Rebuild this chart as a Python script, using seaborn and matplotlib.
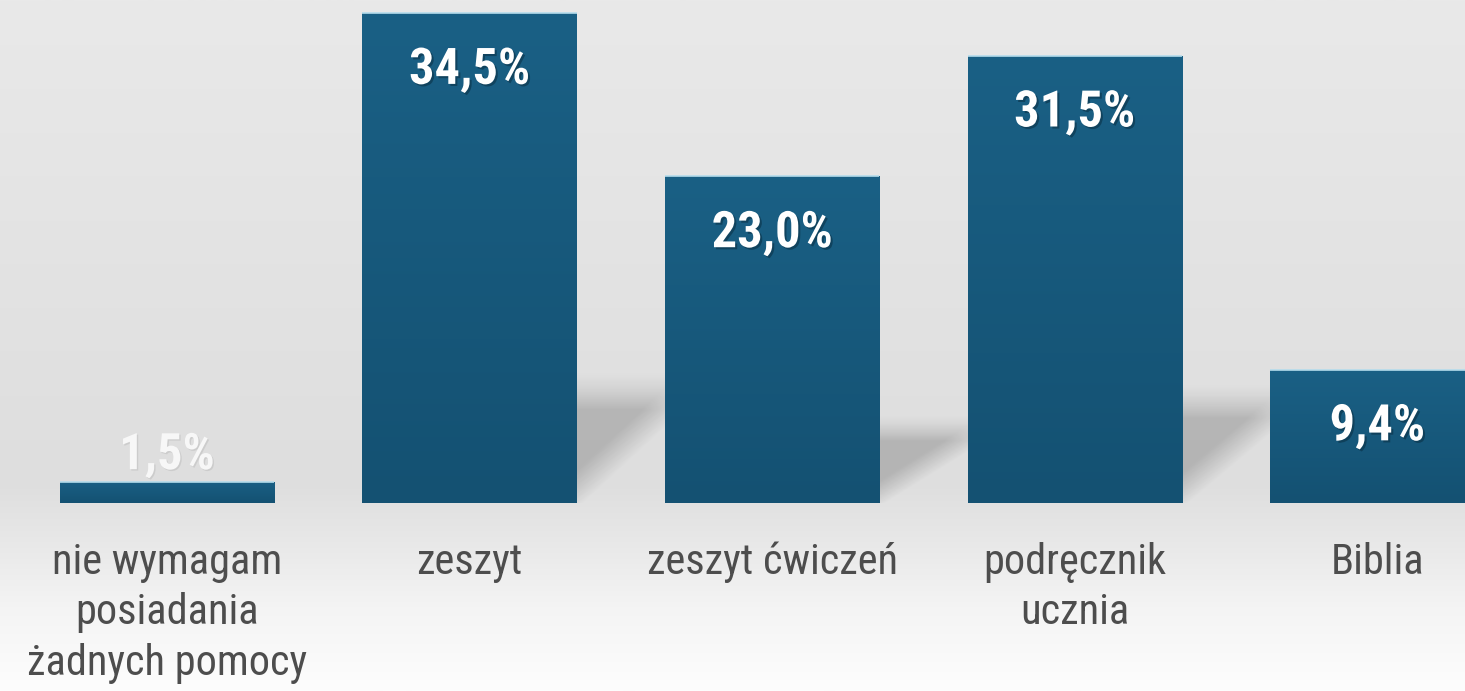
import numpy as np
import pandas as pd
import matplotlib
matplotlib.use("Agg")
import matplotlib.pyplot as plt
import matplotlib.patheffects as pe
from matplotlib import font_manager
from matplotlib.colors import LinearSegmentedColormap
import seaborn as sns

# data
categories = ["nie wymagam\nposiadania\nżadnych pomocy", "zeszyt",
              "zeszyt ćwiczeń", "podręcznik\nucznia", "Biblia"]
values = [1.5, 34.5, 23.0, 31.5, 9.4]
value_labels = ["1,5%", "34,5%", "23,0%", "31,5%", "9,4%"]

df = pd.DataFrame({"cat": categories, "val": values})

sns.set_theme(style="white")

# pick a narrow sans (Arial Narrow look-alike) that has a bold face
faces = {}
for f in font_manager.fontManager.ttflist:
    if f.style == "normal":
        faces.setdefault(f.name, set()).add(int(f.weight) if str(f.weight).isdigit() else 400)
family = "Liberation Sans"
for cand in ["Nimbus Sans Narrow", "Liberation Sans Narrow", "Roboto Condensed",
             "PT Sans Narrow", "Asap Condensed", "Barlow Semi Condensed"]:
    if cand in faces and any(w >= 700 for w in faces[cand]):
        family = cand
        break
plt.rcParams["font.family"] = [family, "DejaVu Sans"]

fig = plt.figure(figsize=(14.65, 6.91), dpi=100)

# background gradient
bg = fig.add_axes([0, 0, 1, 1], zorder=0)
bg_cmap = LinearSegmentedColormap.from_list(
    "bg", [(0.0, "#e9e9e9"), (0.70, "#dedede"), (0.77, "#e6e6e6"),
           (0.88, "#f4f4f4"), (1.0, "#fdfdfd")])
bg.imshow(np.linspace(0, 1, 256).reshape(-1, 1), aspect="auto", cmap=bg_cmap,
          extent=[0, 1, 1, 0])
bg.set_axis_off()

ax = fig.add_axes([0, 188 / 691, 1, 503 / 691], zorder=1)
ax.patch.set_alpha(0)
sns.barplot(data=df, x="cat", y="val", width=0.708, color="#175a7d",
            saturation=1, ax=ax)

# gradient fill inside bars + top highlight
bar_cmap = LinearSegmentedColormap.from_list("bar", ["#145172", "#1a6085"])
grad = np.linspace(0, 1, 256).reshape(-1, 1)
for p in ax.patches:
    x0, w, h = p.get_x(), p.get_width(), p.get_height()
    im = ax.imshow(grad, cmap=bar_cmap, aspect="auto", origin="lower",
                   extent=[x0, x0 + w, 0, h], zorder=2)
    im.set_clip_path(p)
    p.set_facecolor("none")
    p.set_edgecolor("none")
    ax.plot([x0, x0 + w], [h, h], color="#b5dcec", lw=1.2, zorder=3,
            solid_capstyle="butt")

# soft shadows in the gaps behind taller bars
uu, yy = np.meshgrid(np.linspace(0, 1, 160), np.linspace(0, 1, 160))
for i in range(1, len(values) - 1):
    p = ax.patches[i]
    gx0 = p.get_x() + p.get_width()
    gx1 = ax.patches[i + 1].get_x()
    H = 0.27 * values[i]
    top = np.clip((1 - yy) / 0.3, 0, 1) ** 1.5
    diag = np.clip((yy - 0.62 * uu + 0.05) / 0.3, 0, 1)
    rgba = np.zeros(uu.shape + (4,))
    rgba[..., 3] = 0.19 * top * diag
    ax.imshow(rgba, origin="lower", aspect="auto",
              extent=[gx0, gx1, 0, H], zorder=1.5)

ax.set_xlim(-0.552, 4.29)
ax.set_ylim(0, 35.42)

# value labels
texts = []
for i, (v, lab) in enumerate(zip(values, value_labels)):
    small = v < 5
    t = ax.annotate(lab, (i, v), xytext=(0, 9 if small else -51),
                    textcoords="offset points", ha="center", va="baseline",
                    fontsize=37, fontweight="bold",
                    color="#f7f7f7" if small else "white", zorder=5,
                    path_effects=[pe.SimplePatchShadow(
                        offset=(1, -1) if small else (1.5, -1.5),
                        alpha=0.2 if small else 0.5,
                        shadow_rgbFace="#888888" if small else "#082a3c"),
                        pe.Normal()])
    texts.append(t)

ax.set_xlabel("")
ax.set_ylabel("")
ax.set_yticks([])
ax.tick_params(axis="x", length=0, pad=28)
ticklabels = ax.get_xticklabels()
for t in ticklabels:
    t.set_fontsize(36)
    t.set_color("#4d4d4d")
sns.despine(ax=ax, left=True, bottom=True)

# fit font sizes to the widths seen in the reference
fig.canvas.draw()
r = fig.canvas.get_renderer()
vscale = 121 / texts[1].get_window_extent(r).width
for t in texts:
    t.set_fontsize(37 * vscale)
lscale = 252 / ticklabels[2].get_window_extent(r).width
for t in ticklabels:
    t.set_fontsize(36 * lscale)
    t.set_linespacing(1.3)

fig.savefig("out.png", dpi=100)
